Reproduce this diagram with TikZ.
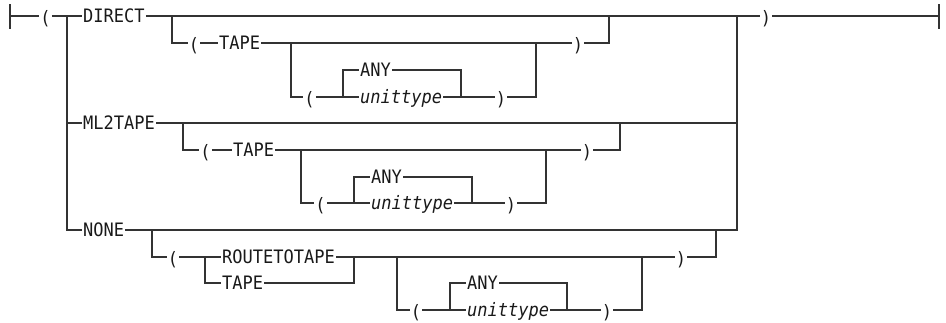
\documentclass[tikz,border=0pt]{standalone}
\usepackage{fontspec}
\setmonofont{DejaVu Sans Mono}[FakeStretch=0.92]
\usepackage{tikz}

\newcommand{\lpar}{\raisebox{-2pt}{(}}
\newcommand{\rpar}{\raisebox{-2pt}{)}}

\tikzset{
  kw/.style={anchor=west, inner xsep=1pt, inner ysep=0pt, text height=13.5pt,
    text depth=0pt, text=black!90, font=\ttfamily\fontsize{18.5}{18.5}\selectfont},
  par/.style={kw, anchor=center},
  rail/.style={line width=1.3pt, color=black!80},
}

\begin{document}
\begin{tikzpicture}[x=1pt, y=-1pt]
  \useasboundingbox (0,0) rectangle (946,322);

  % main line
  \draw[rail] (10,4) -- (10,29);
  \draw[rail] (939,4) -- (939,29);
  \coordinate (start) at (10,16);
  \coordinate (stop) at (939,16);
  \node[par] (lpA) at (45.5,16) {\lpar};
  \node[kw] (direct) at (82,16) {DIRECT};
  \node[kw] (ml2) at (82,123) {ML2TAPE};
  \node[kw] (none) at (82,230) {NONE};
  \node[par] (rpA) at (766,16) {\rpar};
  \coordinate (f0) at (67,16);
  \coordinate (j0) at (737,16);
  \draw[rail] (start) -- (lpA.west);
  \draw[rail] (lpA.east) -- (direct.west);
  \draw[rail] (direct.east) -- (rpA.west);
  \draw[rail] (rpA.east) -- (stop);
  \draw[rail] (f0) |- (ml2.west);
  \draw[rail] (f0) |- (none.west);
  \draw[rail] (ml2.east) -| (j0);
  \draw[rail] (none.east) -| (j0);

  % DIRECT ( TAPE ... )
  \coordinate (fA) at (172,16);
  \coordinate (jA) at (609,16);
  \node[par] (lpB) at (194,43) {\lpar};
  \node[kw] (tapeA) at (218,43) {TAPE};
  \node[par] (rpB) at (578,43) {\rpar};
  \draw[rail] (fA) |- (lpB.west);
  \draw[rail] (lpB.east) -- (tapeA.west);
  \draw[rail] (tapeA.east) -- (rpB.west);
  \draw[rail] (rpB.east) -| (jA);

  \coordinate (fB) at (291,43);
  \coordinate (jB) at (536,43);
  \coordinate (fC) at (343,97);
  \coordinate (jC) at (461,97);
  \node[par] (lpC) at (309.5,97) {\lpar};
  \node[kw] (anyA) at (359,70) {ANY};
  \node[kw] (utA) at (359,97) {\itshape unittype};
  \node[par] (rpC) at (501,97) {\rpar};
  \draw[rail] (fB) |- (lpC.west);
  \draw[rail] (lpC.east) -- (utA.west);
  \draw[rail] (fC) |- (anyA.west);
  \draw[rail] (anyA.east) -| (jC);
  \draw[rail] (utA.east) -- (rpC.west);
  \draw[rail] (rpC.east) -| (jB);

  % ML2TAPE ( TAPE ... )
  \coordinate (fD) at (183,123);
  \coordinate (jD) at (620,123);
  \node[par] (lpD) at (205.5,150) {\lpar};
  \node[kw] (tapeB) at (232,150) {TAPE};
  \node[par] (rpD) at (587,150) {\rpar};
  \draw[rail] (fD) |- (lpD.west);
  \draw[rail] (lpD.east) -- (tapeB.west);
  \draw[rail] (tapeB.east) -- (rpD.west);
  \draw[rail] (rpD.east) -| (jD);

  \coordinate (fE) at (301,150);
  \coordinate (jE) at (546,150);
  \coordinate (fF) at (354,203);
  \coordinate (jF) at (472,203);
  \node[par] (lpE) at (320.5,203) {\lpar};
  \node[kw] (anyB) at (370,177) {ANY};
  \node[kw] (utB) at (370,203) {\itshape unittype};
  \node[par] (rpE) at (511,203) {\rpar};
  \draw[rail] (fE) |- (lpE.west);
  \draw[rail] (lpE.east) -- (utB.west);
  \draw[rail] (fF) |- (anyB.west);
  \draw[rail] (anyB.east) -| (jF);
  \draw[rail] (utB.east) -- (rpE.west);
  \draw[rail] (rpE.east) -| (jE);

  % NONE ( ROUTETOTAPE|TAPE ... )
  \coordinate (fG) at (152,230);
  \coordinate (jG) at (716,230);
  \coordinate (fH) at (205,257);
  \coordinate (jH) at (354,257);
  \node[par] (lpF) at (173,257) {\lpar};
  \node[kw] (rtt) at (221,257) {ROUTETOTAPE};
  \node[kw] (tapeC) at (221,283) {TAPE};
  \node[par] (rpF) at (681,257) {\rpar};
  \draw[rail] (fG) |- (lpF.west);
  \draw[rail] (lpF.east) -- (rtt.west);
  \draw[rail] (fH) |- (tapeC.west);
  \draw[rail] (tapeC.east) -| (jH);
  \draw[rail] (rtt.east) -- (rpF.west);
  \draw[rail] (rpF.east) -| (jG);

  \coordinate (fI) at (397,257);
  \coordinate (jI) at (642,257);
  \coordinate (fK) at (450,310);
  \coordinate (jK) at (567,310);
  \node[par] (lpG) at (416,310) {\lpar};
  \node[kw] (anyC) at (466,283) {ANY};
  \node[kw] (utC) at (466,310) {\itshape unittype};
  \node[par] (rpG) at (607,310) {\rpar};
  \draw[rail] (fI) |- (lpG.west);
  \draw[rail] (lpG.east) -- (utC.west);
  \draw[rail] (fK) |- (anyC.west);
  \draw[rail] (anyC.east) -| (jK);
  \draw[rail] (utC.east) -- (rpG.west);
  \draw[rail] (rpG.east) -| (jI);
\end{tikzpicture}
\end{document}
